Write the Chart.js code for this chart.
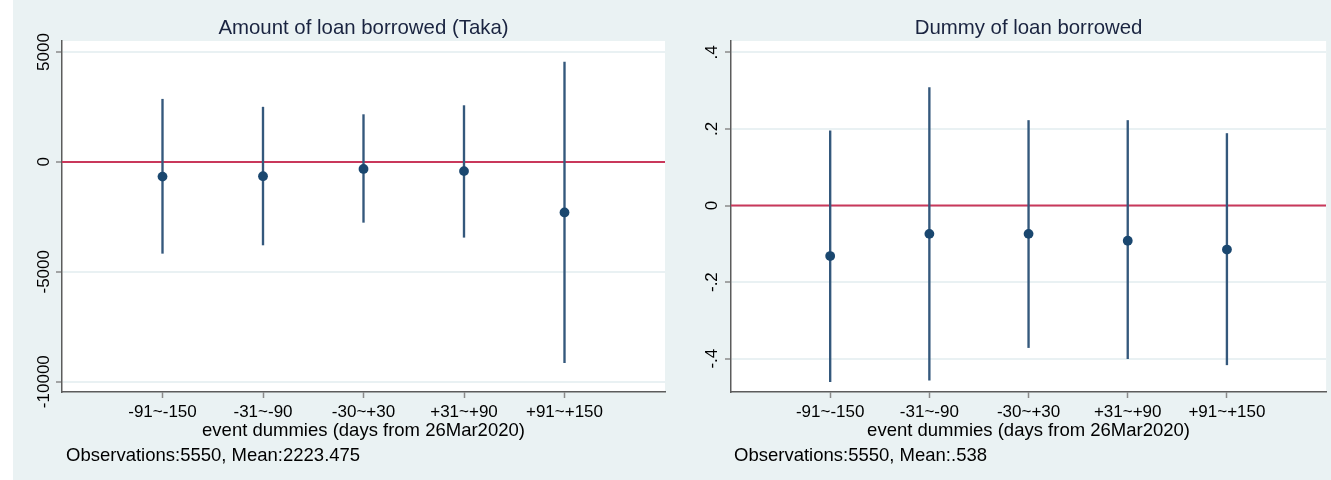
<!DOCTYPE html>
<html>
<head>
<meta charset="utf-8">
<script src="https://cdn.jsdelivr.net/npm/chart.js@4.4.1/dist/chart.umd.min.js"></script>
<style>
    body { margin: 0; background: #ffffff; }
    #graph { position: absolute; left: 13px; top: 0; width: 1318px; height: 480px; background: #eaf2f3; }
    canvas { position: absolute; top: 0; }
    #loanAmountChart { left: 0; }
    #loanDummyChart { left: 657px; }
</style>
</head>
<body>
<div id="graph">
    <canvas id="loanAmountChart" width="657" height="480"></canvas>
    <canvas id="loanDummyChart" width="661" height="480"></canvas>
</div>
<script>
// event windows (x axis)
const categories = ['-91~-150', '-31~-90', '-30~+30', '+31~+90', '+91~+150'];

// amount of loan borrowed (Taka): point estimate and 95% CI
const amountMean = [-670, -650, -320, -420, -2300];
const amountLow = [-4160, -3780, -2750, -3430, -9130];
const amountHigh = [2850, 2490, 2150, 2560, 4540];
const amountTicks = [5000, 0, -5000, -10000];
const amountTickLabels = ['5000', '0', '-5000', '-10000'];

// dummy of loan borrowed
const dummyMean = [-0.132, -0.074, -0.074, -0.092, -0.115];
const dummyLow = [-0.460, -0.456, -0.371, -0.400, -0.416];
const dummyHigh = [0.195, 0.308, 0.222, 0.222, 0.188];
const dummyTicks = [0.4, 0.2, 0, -0.2, -0.4];
const dummyTickLabels = ['.4', '.2', '0', '-.2', '-.4'];

const xTitle = 'event dummies (days from 26Mar2020)';

document.addEventListener('DOMContentLoaded', () => {
    const navy = '#1a476f';
    const ciColor = '#34587c';
    const refRed = '#c9385b';
    const font = 'Arial, "Liberation Sans", sans-serif';

    // white plot region, panel title and note under the axis
    const panelText = {
        id: 'panelText',
        beforeDraw(chart, args, opts) {
            const { ctx, chartArea } = chart;
            ctx.save();
            ctx.fillStyle = '#ffffff';
            ctx.fillRect(chartArea.left, chartArea.top, chartArea.right - chartArea.left, chartArea.bottom - chartArea.top);
            ctx.restore();
        },
        afterDraw(chart, args, opts) {
            const { ctx, chartArea } = chart;
            ctx.save();
            ctx.textBaseline = 'alphabetic';
            ctx.fillStyle = '#1a2440';
            ctx.font = '20.4px ' + font;
            ctx.textAlign = 'center';
            ctx.fillText(opts.title, (chartArea.left + chartArea.right) / 2, 34);
            ctx.fillStyle = '#000000';
            ctx.font = '18.5px ' + font;
            ctx.textAlign = 'left';
            ctx.fillText(opts.note, chartArea.left + opts.noteShift, 461);
            ctx.restore();
        }
    };

    function makePanel(canvasId, p) {
        const ctx = document.getElementById(canvasId).getContext('2d');
        return new Chart(ctx, {
            type: 'scatter',
            data: {
                datasets: [
                    {
                        type: 'scatter',
                        data: p.mean.map((m, i) => ({ x: i + 1, y: m })),
                        pointRadius: 4.9,
                        backgroundColor: navy,
                        borderWidth: 0,
                        order: 1
                    },
                    {
                        type: 'bar',
                        data: p.low.map((lo, i) => ({ x: i + 1, y: [lo, p.high[i]] })),
                        backgroundColor: ciColor,
                        borderWidth: 0,
                        barThickness: 1.7,
                        order: 2
                    },
                    {
                        type: 'line',
                        data: [{ x: 0, y: 0 }, { x: categories.length + 1, y: 0 }],
                        borderColor: refRed,
                        borderWidth: 2,
                        pointRadius: 0,
                        order: 3
                    }
                ]
            },
            options: {
                responsive: false,
                animation: false,
                events: [],
                layout: { padding: { left: 0, right: p.padRight, top: 41, bottom: 0 } },
                plugins: {
                    legend: { display: false },
                    tooltip: { enabled: false },
                    panelText: { title: p.title, note: p.note, noteShift: p.noteShift }
                },
                scales: {
                    x: {
                        type: 'linear',
                        min: 0,
                        max: categories.length + 1,
                        offset: false,
                        afterFit: scale => { scale.height = 88; },
                        afterBuildTicks: scale => {
                            scale.ticks = categories.map((c, i) => ({ value: i + 1 }));
                        },
                        ticks: {
                            autoSkip: false,
                            maxRotation: 0,
                            padding: 4,
                            color: '#000000',
                            font: { family: font, size: 17 },
                            callback: (v, i) => categories[i]
                        },
                        grid: {
                            offset: false,
                            drawOnChartArea: false,
                            tickLength: 6,
                            tickColor: '#8a8a8a',
                            tickWidth: 1.5
                        },
                        border: { color: '#5c5c5c', width: 1.5 },
                        title: {
                            display: true,
                            text: xTitle,
                            color: '#000000',
                            font: { family: font, size: 18.5 },
                            padding: { top: 0, bottom: 38 }
                        }
                    },
                    y: {
                        type: 'linear',
                        min: p.yMin,
                        max: p.yMax,
                        afterFit: scale => { scale.width = p.axisWidth; },
                        afterBuildTicks: scale => {
                            scale.ticks = p.ticks.map(v => ({ value: v }));
                        },
                        ticks: {
                            autoSkip: false,
                            minRotation: 90,
                            maxRotation: 90,
                            crossAlign: 'center',
                            padding: p.tickPad,
                            color: '#000000',
                            font: { family: font, size: 17 },
                            callback: (v, i) => p.tickLabels[i]
                        },
                        grid: {
                            color: '#e9f1f3',
                            lineWidth: 2,
                            tickLength: 6,
                            tickColor: '#8a8a8a',
                            tickWidth: 1.5
                        },
                        border: { color: '#5c5c5c', width: 1.5 }
                    }
                }
            },
            plugins: [panelText]
        });
    }

    makePanel('loanAmountChart', {
        title: 'Amount of loan borrowed (Taka)',
        note: 'Observations:5550, Mean:2223.475',
        mean: amountMean, low: amountLow, high: amountHigh,
        ticks: amountTicks, tickLabels: amountTickLabels,
        yMin: -10470, yMax: 5500,
        axisWidth: 49, tickPad: -14.5, padRight: 5, noteShift: 4
    });

    makePanel('loanDummyChart', {
        title: 'Dummy of loan borrowed',
        note: 'Observations:5550, Mean:.538',
        mean: dummyMean, low: dummyLow, high: dummyHigh,
        ticks: dummyTicks, tickLabels: dummyTickLabels,
        yMin: -0.487, yMax: 0.4296,
        axisWidth: 61, tickPad: 2.4, padRight: 0, noteShift: 3
    });
});
</script>
</body>
</html>
